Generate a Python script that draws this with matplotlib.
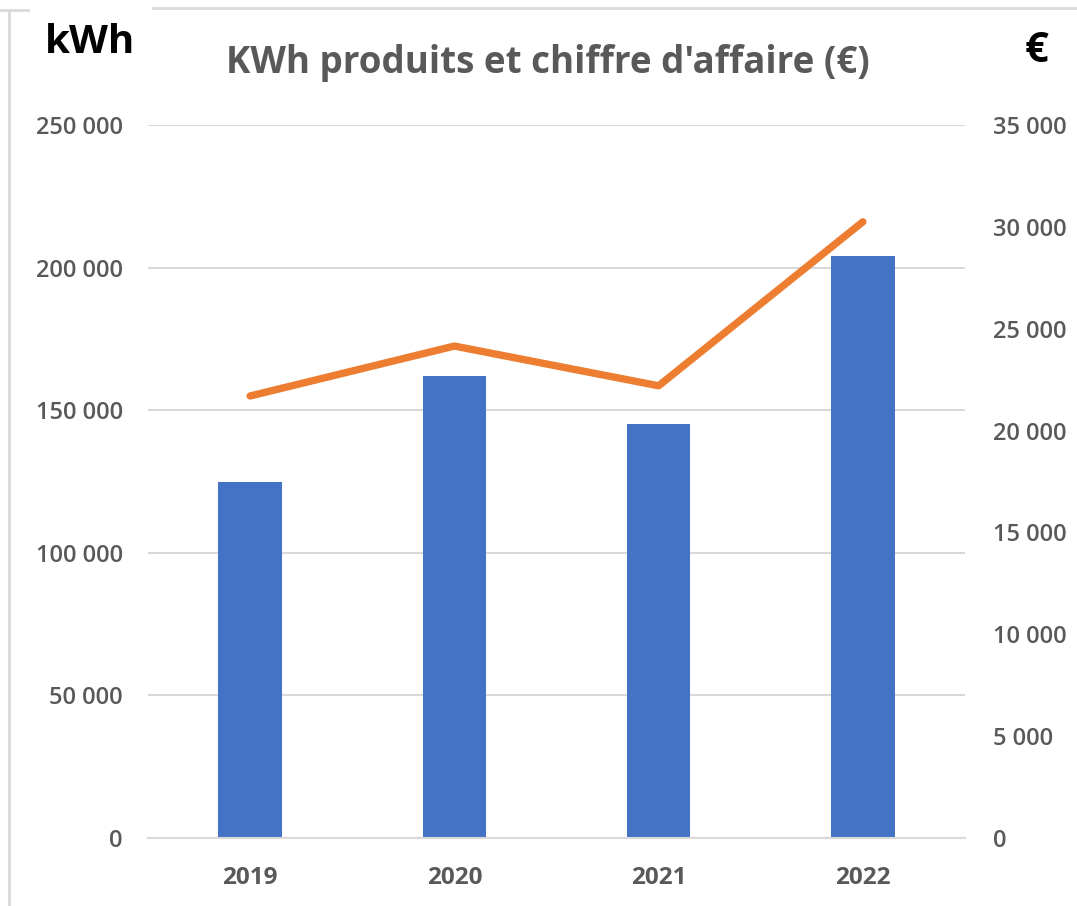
import matplotlib
matplotlib.use("Agg")
import matplotlib.pyplot as plt
from matplotlib.lines import Line2D
from matplotlib.ticker import FuncFormatter

## Donnees
annees = ["2019", "2020", "2021", "2022"]
kwh = [125000, 162000, 145000, 204000]
chiffre = [21700, 24150, 22200, 30250]

bleu = "#4472C4"
orange = "#ED7D31"
gris = "#595959"

plt.rcParams["font.family"] = ["Open Sans", "DejaVu Sans"]

def fmt(v, pos):
    return "{:,.0f}".format(v).replace(",", " ")

fig = plt.figure(figsize=(10.77, 9.06), dpi=100)
ax = fig.add_axes([0.1374, 0.075, 0.7586, 0.787])
ax2 = ax.twinx()

x = range(len(annees))
ax.bar(x, kwh, width=0.31, color=bleu, zorder=2)
ax2.plot(x, chiffre, color=orange, lw=5.3, solid_capstyle="round", solid_joinstyle="round", zorder=3)

ax.set_xlim(-0.5, 3.5)
ax.set_ylim(0, 250000)
ax2.set_ylim(0, 35000)
ax.set_yticks(range(0, 250001, 50000))
ax2.set_yticks(range(0, 35001, 5000))
ax.yaxis.set_major_formatter(FuncFormatter(fmt))
ax2.yaxis.set_major_formatter(FuncFormatter(fmt))
ax.set_xticks(list(x))
ax.set_xticklabels(annees, fontsize=17.5, fontweight="bold", color=gris)

ax.grid(axis="y", color="#D9D9D9", lw=1.5, zorder=0)
ax.set_axisbelow(True)
for a in (ax, ax2):
    for s in a.spines.values():
        s.set_visible(False)
    a.tick_params(length=0)
ax.spines["bottom"].set_visible(True)
ax.spines["bottom"].set_color("#D9D9D9")
ax.spines["bottom"].set_linewidth(1.5)
ax.tick_params(axis="y", labelsize=17, labelcolor=gris, pad=18)
ax.tick_params(axis="x", pad=20)
ax2.tick_params(axis="y", labelsize=17, labelcolor=gris, pad=20)
for lab in ax.get_yticklabels() + ax2.get_yticklabels():
    lab.set_fontweight("semibold")

fig.text(0.5088, 0.931, "KWh produits et chiffre d'affaire (€)", ha="center", va="center",
         fontsize=26.5, fontweight="bold", color=gris)
fig.text(0.0418, 0.953, "kWh", ha="left", va="center", fontsize=29, fontweight="bold", color="black")
fig.text(0.962, 0.943, "€", ha="center", va="center", fontsize=30, fontweight="bold", color="black")

# cadre
c = "#D9D9D9"
fig.add_artist(Line2D([0.0084, 0.0084], [0.0, 0.989], transform=fig.transFigure, color=c, lw=2))
fig.add_artist(Line2D([0.0, 0.026], [0.989, 0.989], transform=fig.transFigure, color=c, lw=2))
fig.add_artist(Line2D([0.142, 1.0], [0.991, 0.991], transform=fig.transFigure, color=c, lw=2))

fig.savefig("out.png", dpi=100)
